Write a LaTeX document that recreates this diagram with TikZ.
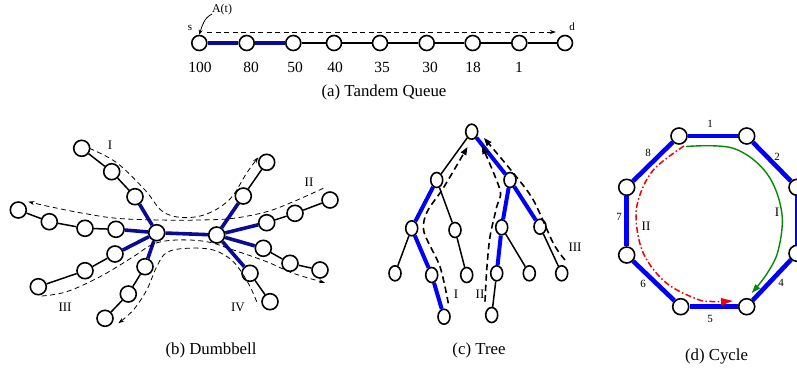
\documentclass[tikz,border=0pt]{standalone}
\usepackage{fontspec}
\setmainfont{Liberation Serif}
\usetikzlibrary{arrows.meta,shapes.geometric}
\definecolor{navyb}{RGB}{10,10,150}
\definecolor{pureb}{RGB}{0,0,250}
\definecolor{grn}{RGB}{0,140,0}
\definecolor{rd}{RGB}{240,0,0}
\begin{document}
\begin{tikzpicture}[x=1pt,y=-1pt,
  nd/.style={circle,draw,line width=1.6pt,fill=white,minimum size=15pt,inner sep=0pt},
  dnd/.style={circle,draw,line width=1.6pt,fill=white,minimum size=16pt,inner sep=0pt},
  tnd/.style={ellipse,draw,line width=1.6pt,fill=white,minimum width=12pt,minimum height=15pt,inner sep=0pt},
  cnd/.style={circle,draw,line width=1.6pt,fill=white,minimum size=16pt,inner sep=0pt},
  bedge/.style={line width=1.5pt},
  navyedge/.style={line width=3.6pt,draw=navyb},
  blueedge/.style={line width=4pt,draw=pureb},
  cedge/.style={line width=4.6pt,draw=pureb},
  big/.style={font=\fontsize{15.5}{18}\selectfont,inner sep=0pt},
  captxt/.style={font=\fontsize{16.8}{19}\selectfont,inner sep=0pt},
  mid/.style={font=\fontsize{13}{15}\selectfont,inner sep=0pt},
  sml/.style={font=\fontsize{11}{13}\selectfont,inner sep=0pt},
  thindash/.style={line width=0.8pt,dash pattern=on 5pt off 3.5pt},
  treedash/.style={line width=1.6pt,dash pattern=on 6.5pt off 4pt,-{Triangle[length=8pt,width=6pt]}},
]
\useasboundingbox (0,0) rectangle (797,373);

% ---------------- (a) Tandem queue
\foreach \n/\x in {1/199.3,2/246.7,3/293.3,4/334,5/380,6/426.7,7/472.7,8/519.3,9/565}
  \node[nd] (t\n) at (\x,43) {};
\draw[navyedge] (t1) -- (t2);
\draw[navyedge] (t2) -- (t3);
\foreach \a/\b in {3/4,4/5,5/6,6/7,7/8,8/9} \draw[bedge] (t\a) -- (t\b);
\foreach \n/\x/\t in {1/200/100,2/251/80,3/295/50,4/335/40,5/382/35,6/430/30,7/473/18,8/519/1}
  \node[big] (tl\n) at (\x,67) {\t};
\node[sml] (ts) at (190,28) {s};
\node[sml] (td) at (572,27) {d};
\node[font=\fontsize{12}{14}\selectfont,inner sep=0pt] (At) at (222,10) {A(t)};
\coordinate (atstart) at (212,14);
\draw[line width=0.8pt,-{Stealth[length=5pt,width=4pt]}] (atstart) .. controls (204,18) and (202,26) .. (t1.north);
\coordinate (ds) at (207,32);
\coordinate (de) at (556,32);
\draw[thindash,-{Stealth[length=6pt,width=4pt]}] (ds) -- (de);
\node[captxt] (capa) at (384,92) {(a) Tandem Queue};

% ---------------- (b) Dumbbell
\foreach \n/\x/\y in {c1/156.7/232.7,c2/216.7/235,
  a1/135/196.7,a2/111.7/171.7,a3/81.7/148.3,
  b1/116/229.3,b2/85/228.3,b3/49.3/221.7,b4/18.3/210,
  e1/115/254,e2/85/270.7,e3/38.3/286.7,
  f1/145/266.7,f2/128.3/294,f3/105/318.3,
  g1/243.3/196,g2/266.7/162.3,
  h1/266.7/222.7,h2/295/213.3,h3/330/200,
  i1/263.3/248.3,i2/290/263.3,i3/320/270,
  j1/250/273.3,j2/270/301.7}
  \node[dnd] (\n) at (\x,\y) {};
\foreach \a/\b in {c1/c2,c1/a1,c1/b1,c1/e1,c1/f1,c2/g1,c2/h1,c2/i1,c2/j1}
  \draw[navyedge] (\a) -- (\b);
\foreach \a/\b in {a1/a2,a2/a3,b1/b2,b2/b3,b3/b4,e1/e2,e2/e3,f1/f2,f2/f3,g1/g2,h1/h2,h2/h3,i1/i2,i2/i3,j1/j2}
  \draw[bedge] (\a) -- (\b);
% dashed routes
\coordinate (dIs) at (89.3,148.3);  \coordinate (dIe) at (258.3,157.3);
\draw[thindash,-{Stealth[length=6pt,width=4pt]}] plot[smooth,tension=0.6] coordinates
  {(dIs) (116.7,162.7) (145,190) (162,211) (182,217.5) (206.7,214) (230,199) (246.7,173) (dIe)};
\coordinate (dIIs) at (323.3,188.3); \coordinate (dIIe) at (28.3,201.7);
\draw[thindash,-{Stealth[length=6pt,width=4pt]}] plot[smooth,tension=0.6] coordinates
  {(dIIs) (293.3,201.7) (266.7,211.7) (233.3,218.3) (200,220) (160,220) (116.7,218.3) (83.3,213.3) (50,206.7) (dIIe)};
\coordinate (dIIIs) at (41.7,296); \coordinate (dIIIe) at (325,282.7);
\draw[thindash,-{Stealth[length=6pt,width=4pt]}] plot[smooth,tension=0.6] coordinates
  {(dIIIs) (66.7,291.7) (100,276.7) (133.3,256.7) (153.3,244) (176.7,240) (206.7,241.7) (233.3,250) (266.7,261.7) (293.3,273.3) (dIIIe)};
\coordinate (dIVs) at (256.7,301.7); \coordinate (dIVe) at (118.3,323.3);
\draw[thindash,-{Stealth[length=6pt,width=4pt]}] plot[smooth,tension=0.6] coordinates
  {(dIVs) (248.3,283.3) (233.3,261.7) (213.3,250) (186.7,248.3) (166.7,252.5) (156.7,266.7) (146.7,290) (133.3,310) (dIVe)};
\node[mid] (lbI) at (110,145) {I};
\node[mid] (lbII) at (309,182) {II};
\node[mid] (lbIII) at (65,307) {III};
\node[mid] (lbIV) at (238,307) {IV};
\node[captxt] (capb) at (211,350) {(b) Dumbbell};

% ---------------- (c) Tree
\foreach \n/\x/\y in {r/471.7/131.7,p/436.7/180,q/510/180,
  p1/411.7/228.3,p2/455/230,q1/501.7/227.3,q2/540/226.7,
  p11/395/273.3,p12/431.7/275,p21/466.7/275,q11/496.7/273.3,q12/529.3/273.3,q21/561.7/273.3,
  p121/444/316.7,q111/491.7/315}
  \node[tnd] (\n) at (\x,\y) {};
\foreach \a/\b in {r/q,p/p1,p1/p12,p12/p121,q/q1,q/q2,q1/q11}
  \draw[blueedge] (\a) -- (\b);
\foreach \a/\b in {r/p,p/p2,p1/p11,p2/p21,q1/q12,q2/q21,q11/q111}
  \draw[bedge] (\a) -- (\b);
\coordinate (tIs) at (448.3,303.3); \coordinate (tIe) at (467.5,147);
\draw[treedash] plot[smooth,tension=0.5] coordinates
  {(tIs) (440,266.7) (424,232) (427,212) (443.3,188) (tIe)};
\coordinate (tIIs) at (485,301.7); \coordinate (tIIe) at (482,146);
\draw[treedash] plot[smooth,tension=0.5] coordinates
  {(tIIs) (486.7,270) (490,236.7) (496.7,206.7) (500,190) (tIIe)};
\coordinate (tIIIs) at (565,260); \coordinate (tIIIe) at (484,138);
\draw[treedash] plot[smooth,tension=0.5] coordinates
  {(tIIIs) (553.3,243.3) (533.3,200) (513.3,173) (tIIIe)};
\node[mid] (tlI) at (456,294) {I};
\node[mid] (tlII) at (480,294) {II};
\node[mid] (tlIII) at (575,247) {III};
\node[captxt] (capc) at (479,350) {(c) Tree};

% ---------------- (d) Cycle
\foreach \n/\x/\y in {1/679/136,2/746.7/136,3/797/187.3,4/797/253.3,5/746.7/306.7,6/680.7/306.7,7/626.7/255,8/626.7/187.3}
  \node[cnd] (n\n) at (\x,\y) {};
\foreach \a/\b in {1/2,2/3,3/4,4/5,5/6,6/7,7/8,8/1}
  \draw[cedge] (n\a) -- (n\b);
\node[sml] (e1) at (710,124) {1};
\node[sml] (e2) at (777,157) {2};
\node[sml] (e4) at (781,283) {4};
\node[sml] (e5) at (710,318.5) {5};
\node[sml] (e6) at (643,284) {6};
\node[sml] (e7) at (619,217) {7};
\node[sml] (e8) at (648,153) {8};
\coordinate (gs) at (686,146.5); \coordinate (ge) at (751.7,293);
\draw[grn,line width=1.4pt,-{Triangle[length=9pt,width=6pt]}] plot[smooth,tension=0.6] coordinates
  {(gs) (733.3,148.3) (766.7,173.3) (781.7,212) (778.3,250) (766.7,274) (ge)};
\coordinate (rs) at (684,146); \coordinate (re) at (733,301);
\draw[rd,line width=1.5pt,dash pattern=on 6pt off 2.5pt on 1.5pt off 2.5pt,-{Triangle[length=12pt,width=7pt]}] plot[smooth,tension=0.6] coordinates
  {(rs) (653.3,170) (638.3,200) (636.7,226.7) (645,256.7) (666.7,283.3) (696.7,299) (712,301.5) (re)};
\node[mid] (cI) at (777,212) {I};
\node[mid] (cII) at (646,226) {II};
\node[captxt] (capd) at (716.5,356.5) {(d) Cycle};
\end{tikzpicture}
\end{document}
